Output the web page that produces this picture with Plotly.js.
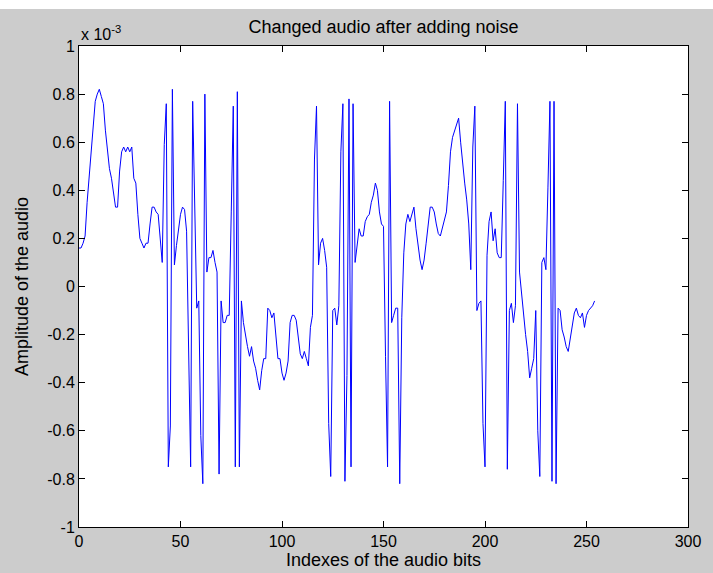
<!DOCTYPE html>
<html>
<head>
<meta charset="utf-8">
<script src="https://cdn.plot.ly/plotly-3.0.1.min.js"></script>
<style>
  html, body { margin: 0; padding: 0; background: #ffffff; }
  #chart { position: absolute; left: 0; top: 9px; width: 713px; height: 564px; }
</style>
</head>
<body>
<div id="chart"></div>
<script>
// Amplitude (x 10^-3), one value per audio-bit index 0..254
const amplitude = [
  0.16, 0.16, 0.18, 0.21, 0.35, 0.46, 0.59, 0.69, 0.77, 0.80,
  0.82, 0.79, 0.76, 0.65, 0.57, 0.49, 0.45, 0.38, 0.33, 0.33,
  0.48, 0.56, 0.58, 0.56, 0.58, 0.56, 0.58, 0.45, 0.43, 0.30,
  0.20, 0.18, 0.16, 0.18, 0.18, 0.26, 0.33, 0.33, 0.31, 0.30,
  0.20, 0.10, 0.59, 0.76, -0.75, -0.58, 0.82, 0.09, 0.17, 0.24,
  0.30, 0.33, 0.32, 0.23, -0.32, -0.75, 0.77, 0.33, -0.09, -0.06,
  -0.62, -0.82, 0.80, 0.06, 0.12, 0.12, 0.15, 0.10, 0.06, -0.78,
  -0.06, -0.15, -0.15, -0.12, -0.12, 0.31, 0.75, -0.75, 0.81, -0.75,
  -0.06, -0.15, -0.21, -0.25, -0.29, -0.25, -0.31, -0.34, -0.39, -0.43,
  -0.35, -0.30, -0.30, -0.09, -0.10, -0.13, -0.11, -0.20, -0.30, -0.30,
  -0.36, -0.39, -0.36, -0.31, -0.15, -0.12, -0.12, -0.14, -0.21, -0.28,
  -0.30, -0.27, -0.30, -0.33, -0.17, -0.12, 0.53, 0.75, 0.09, 0.18,
  0.20, 0.15, 0.08, -0.57, -0.79, -0.10, -0.09, -0.16, -0.08, 0.56,
  0.76, -0.81, -0.37, 0.78, -0.75, 0.76, 0.10, 0.17, 0.24, 0.21,
  0.21, 0.27, 0.29, 0.30, 0.35, 0.38, 0.43, 0.40, 0.31, 0.26,
  0.25, -0.29, -0.75, 0.77, -0.15, -0.12, -0.09, -0.09, -0.82, -0.13,
  0.14, 0.26, 0.30, 0.27, 0.30, 0.33, 0.24, 0.17, 0.11, 0.07,
  0.11, 0.18, 0.27, 0.33, 0.33, 0.31, 0.26, 0.22, 0.21, 0.24,
  0.28, 0.31, 0.42, 0.56, 0.62, 0.65, 0.68, 0.70, 0.60, 0.50,
  0.43, 0.36, 0.26, 0.07, 0.58, 0.75, -0.10, -0.07, -0.06, -0.57,
  -0.75, 0.13, 0.27, 0.31, 0.19, 0.24, 0.14, 0.12, 0.12, 0.44,
  0.77, -0.76, -0.10, -0.07, -0.15, -0.08, 0.76, 0.06, -0.03, -0.13,
  -0.20, -0.27, -0.38, -0.34, -0.30, -0.10, -0.60, -0.79, 0.10, 0.12,
  0.07, 0.41, 0.77, -0.81, 0.77, -0.82, -0.09, -0.10, -0.18, -0.21,
  -0.25, -0.27, -0.21, -0.16, -0.11, -0.09, -0.12, -0.13, -0.11, -0.17,
  -0.12, -0.10, -0.09, -0.08, -0.06
];
const bitIndex = amplitude.map((_, i) => i);

const xTickVals = [0, 50, 100, 150, 200, 250, 300];
const xTickText = ['0', '50', '100', '150', '200', '250', '300'];
const yTickVals = [-1, -0.8, -0.6, -0.4, -0.2, 0, 0.2, 0.4, 0.6, 0.8, 1];
const yTickText = ['-1', '-0.8', '-0.6', '-0.4', '-0.2', '0', '0.2', '0.4', '0.6', '0.8', '1'];

const FONT = 'Liberation Sans, Arial, sans-serif';

const trace = {
  x: bitIndex,
  y: amplitude,
  type: 'scatter',
  mode: 'lines',
  line: { color: '#0000ff', width: 1 },
  hoverinfo: 'skip'
};

const axisCommon = {
  showgrid: false,
  zeroline: false,
  showline: true,
  linecolor: '#000000',
  linewidth: 1,
  mirror: 'ticks',
  ticks: 'inside',
  ticklen: 6,
  tickwidth: 1,
  tickcolor: '#000000',
  tickfont: { family: FONT, size: 16, color: '#000000' },
  tickmode: 'array'
};

const layout = {
  width: 713,
  height: 564,
  paper_bgcolor: '#cccccc',
  plot_bgcolor: '#ffffff',
  margin: { l: 79, r: 25, t: 37, b: 46, pad: 0 },
  showlegend: false,
  title: {
    text: 'Changed audio after adding noise',
    font: { family: FONT, size: 18, color: '#000000' },
    xref: 'paper', x: 0.5, xanchor: 'center',
    y: 1 - 18 / 564, yanchor: 'middle'
  },
  xaxis: Object.assign({}, axisCommon, {
    range: [0, 300],
    tickvals: xTickVals,
    ticktext: xTickText,
    title: { text: 'Indexes of the audio bits', font: { family: FONT, size: 18, color: '#000000' }, standoff: 0 }
  }),
  yaxis: Object.assign({}, axisCommon, {
    range: [-1, 1],
    tickvals: yTickVals,
    ticktext: yTickText,
    title: { text: 'Amplitude of the audio', font: { family: FONT, size: 18, color: '#000000' }, standoff: 13 }
  }),
  annotations: [{
    xref: 'paper', yref: 'paper',
    x: 0, y: 1,
    xanchor: 'left', yanchor: 'bottom',
    yshift: 1,
    showarrow: false,
    text: 'x 10<sup>-3</sup>',
    font: { family: FONT, size: 16, color: '#000000' }
  }]
};

Plotly.newPlot('chart', [trace], layout, { staticPlot: true, displayModeBar: false });
</script>
</body>
</html>
